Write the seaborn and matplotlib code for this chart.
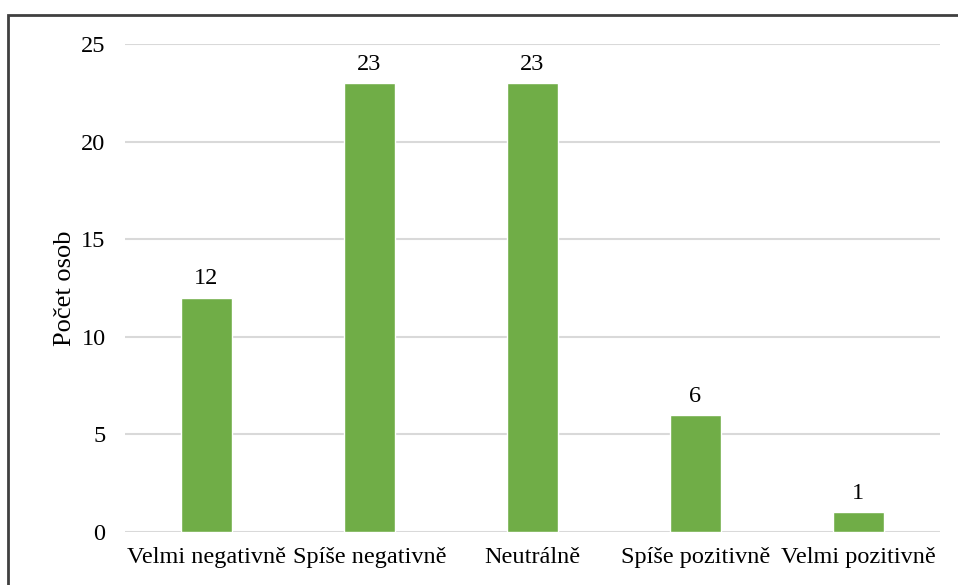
import matplotlib
matplotlib.use("Agg")
import matplotlib.pyplot as plt
import seaborn as sns
import pandas as pd
from matplotlib.patches import Rectangle

categories = ["Velmi negativně", "Spíše negativně", "Neutrálně", "Spíše pozitivně", "Velmi pozitivně"]
counts = [12, 23, 23, 6, 1]

df = pd.DataFrame({"kategorie": categories, "pocet": counts})

sns.set_style("white")
plt.rcParams["font.family"] = ["Liberation Serif", "DejaVu Serif"]

fig = plt.figure(figsize=(9.58, 5.85), dpi=100)
ax = fig.add_axes([0.1305, 0.0906, 0.8505, 0.8342])

sns.barplot(data=df, x="kategorie", y="pocet", color="#70AD47", width=0.31,
            saturation=1, ax=ax)

ax.set_ylim(0, 25)
ax.set_yticks([0, 5, 10, 15, 20, 25])
ax.yaxis.grid(True, color="#D9D9D9", linewidth=1.5)
ax.set_axisbelow(True)
for s in ax.spines.values():
    s.set_visible(False)
ax.tick_params(axis="both", length=0, labelsize=17.5, colors="black")
ax.tick_params(axis="y", pad=14)
ax.tick_params(axis="x", pad=11)
ax.set_xlabel("")
ax.set_ylabel("Počet osob", fontsize=19, labelpad=4, color="black")

ax.bar_label(ax.containers[0], padding=6, fontsize=17.5, color="black")

# outer frame, partly cut off on the right and bottom
fig.patches.append(Rectangle((0.0084, -0.05), 1.1, 0.974 + 0.05, transform=fig.transFigure,
                             fill=False, edgecolor="#404040", linewidth=2))

fig.savefig("out.png", dpi=100)
